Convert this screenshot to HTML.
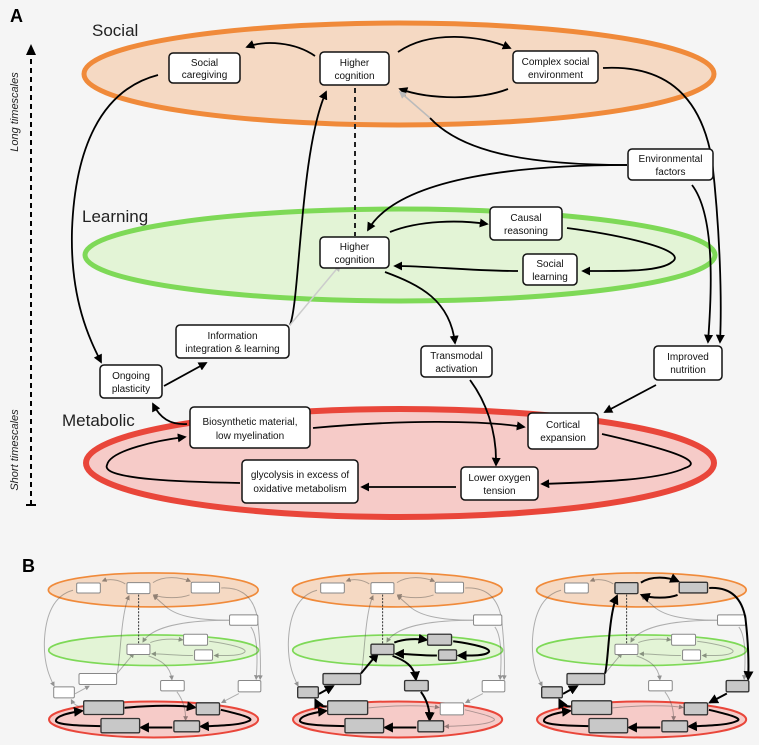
<!DOCTYPE html>
<html><head><meta charset="utf-8"><style>
html,body{margin:0;padding:0;background:#f5f5f5;}
svg{display:block;}
text{font-family:"Liberation Sans",sans-serif;}
.bt{font-size:10px;text-anchor:middle;fill:#111;}
</style></head><body>
<svg width="759" height="745" viewBox="0 0 759 745" xmlns="http://www.w3.org/2000/svg">
<defs>
<marker id="a" viewBox="0 0 10 10" refX="8" refY="5" markerWidth="5" markerHeight="5" orient="auto"><path d="M0,0 L10,5 L0,10 z" fill="#000"/></marker>
<marker id="ag" viewBox="0 0 10 10" refX="8" refY="5" markerWidth="5" markerHeight="5" orient="auto"><path d="M0,0 L10,5 L0,10 z" fill="#bbb"/></marker>
<path id="e1" d="M315,56 C295,42 265,40 247,47"/>
<path id="e2" d="M398,52 C430,30 480,35 510,48"/>
<path id="e3" d="M508,89 C480,100 430,100 400,89"/>
<path id="e4" d="M603,68 C660,65 700,90 712,160 C720,230 722,300 720,342"/>
<path id="e5" d="M627,165 C520,165 460,150 430,118 L400,92"/>
<path id="e6" d="M627,165 C530,165 400,175 368,230"/>
<path id="e7" d="M692,185 C715,215 712,290 708,342"/>
<path id="e8" d="M355,88 L355,236"/>
<path id="e9" d="M390,232 C420,220 460,220 487,224"/>
<path id="e10" d="M567,228 C620,235 690,250 672,262 C660,272 620,271 583,271"/>
<path id="e11" d="M518,271 C470,271 430,266 395,266"/>
<path id="e12" d="M385,272 C420,285 450,300 455,343"/>
<path id="e13" d="M470,380 C485,400 497,430 496,465"/>
<path id="e14" d="M656,385 L605,412"/>
<path id="e15" d="M313,428 C400,420 480,420 524,427"/>
<path id="e16" d="M602,434 C650,445 710,460 685,468 C660,480 600,482 542,484"/>
<path id="e17" d="M456,487 L362,487"/>
<path id="e18" d="M240,483 C190,482 100,480 107,465 C110,450 160,440 185,437"/>
<path id="e19" d="M187,424 C170,425 160,418 153,404"/>
<path id="e20" d="M164,386 L206,363"/>
<path id="e21" d="M290,325 C300,300 300,150 326,92"/>
<path id="e22" d="M290,325 L340,265"/>
<path id="e23" d="M158,75 C100,90 75,150 72,230 C70,300 90,340 101,362"/>

<rect id="r-sc" x="169" y="53" width="71" height="30" rx="4"/>
<rect id="r-hcs" x="320" y="52" width="69" height="33" rx="4"/>
<rect id="r-cse" x="513" y="51" width="85" height="32" rx="4"/>
<rect id="r-env" x="628" y="149" width="85" height="31" rx="4"/>
<rect id="r-cr" x="490" y="207" width="72" height="33" rx="4"/>
<rect id="r-sl" x="523" y="254" width="54" height="31" rx="4"/>
<rect id="r-hcl" x="320" y="237" width="69" height="31" rx="4"/>
<rect id="r-info" x="176" y="325" width="113" height="33" rx="4"/>
<rect id="r-op" x="100" y="365" width="62" height="33" rx="4"/>
<rect id="r-bio" x="190" y="407" width="120" height="41" rx="4"/>
<rect id="r-gly" x="242" y="460" width="116" height="43" rx="4"/>
<rect id="r-tr" x="421" y="346" width="71" height="31" rx="4"/>
<rect id="r-imp" x="654" y="346" width="68" height="34" rx="4"/>
<rect id="r-ce" x="528" y="413" width="70" height="36" rx="4"/>
<rect id="r-lo" x="461" y="467" width="77" height="33" rx="4"/>

<g id="ells">
<ellipse cx="399" cy="74" rx="315" ry="51" fill="#f5d9c3" stroke="#f08a3a" stroke-width="5"/>
<ellipse cx="400" cy="255" rx="315" ry="46" fill="#e3f4d6" stroke="#7ed957" stroke-width="5"/>
<ellipse cx="400" cy="463" rx="314" ry="54" fill="#f6cbc8" stroke="#e9463a" stroke-width="6"/>
</g>
<g id="alledges">
<use href="#e1"/><use href="#e2"/><use href="#e3"/><use href="#e4"/><use href="#e5"/><use href="#e6"/><use href="#e7"/>
<use href="#e9"/><use href="#e10"/><use href="#e11"/><use href="#e12"/><use href="#e13"/><use href="#e14"/><use href="#e15"/>
<use href="#e16"/><use href="#e17"/><use href="#e18"/><use href="#e19"/><use href="#e20"/><use href="#e21"/><use href="#e22"/><use href="#e23"/>
</g>
<g id="allboxes">
<use href="#r-sc"/><use href="#r-hcs"/><use href="#r-cse"/><use href="#r-env"/><use href="#r-cr"/><use href="#r-sl"/><use href="#r-hcl"/><use href="#r-info"/>
<use href="#r-op"/><use href="#r-bio"/><use href="#r-gly"/><use href="#r-tr"/><use href="#r-imp"/><use href="#r-ce"/><use href="#r-lo"/>
</g>
<g id="mini">
<use href="#ells"/>
<g opacity="0.4" stroke="#444" stroke-width="3" fill="none" marker-end="url(#a)"><use href="#alledges"/></g>
<use href="#e8" stroke="#333" stroke-width="3" stroke-dasharray="6,4" fill="none"/>
<g fill="#fff" stroke="#888" stroke-width="3"><use href="#allboxes"/></g>
</g>
</defs>

<rect width="759" height="745" fill="#f5f5f5"/>

<!-- Panel A -->
<text x="10" y="22" font-size="18" font-weight="bold">A</text>
<use href="#ells"/>
<text x="92" y="36" font-size="17" fill="#222">Social</text>
<text x="82" y="222" font-size="17" fill="#222">Learning</text>
<text x="62" y="426" font-size="17" fill="#222">Metabolic</text>

<line x1="31" y1="50" x2="31" y2="505" stroke="#000" stroke-width="2" stroke-dasharray="5,4"/>
<path d="M26,55 L31,44 L36,55 z" fill="#000"/>
<line x1="26" y1="505" x2="36" y2="505" stroke="#000" stroke-width="2"/>
<text transform="translate(18,112) rotate(-90)" font-size="11" font-style="italic" text-anchor="middle" fill="#222">Long timescales</text>
<text transform="translate(18,450) rotate(-90)" font-size="11" font-style="italic" text-anchor="middle" fill="#222">Short timescales</text>

<g stroke="#000" stroke-width="1.8" fill="none" marker-end="url(#a)">
<use href="#e1"/><use href="#e2"/><use href="#e3"/><use href="#e4"/><use href="#e6"/><use href="#e7"/>
<use href="#e9"/><use href="#e10"/><use href="#e11"/><use href="#e12"/><use href="#e13"/><use href="#e14"/><use href="#e15"/>
<use href="#e16"/><use href="#e17"/><use href="#e18"/><use href="#e19"/><use href="#e20"/><use href="#e21"/><use href="#e23"/>
</g>
<path d="M627,165 C520,165 460,150 430,118" stroke="#000" stroke-width="1.8" fill="none"/>
<path d="M430,118 L400,92" stroke="#bbb" stroke-width="1.5" fill="none" marker-end="url(#ag)"/>
<use href="#e22" stroke="#ccc" stroke-width="1.5" fill="none" marker-end="url(#ag)"/>
<use href="#e8" stroke="#222" stroke-width="2" stroke-dasharray="5,4" fill="none"/>

<g fill="#fff" stroke="#111" stroke-width="1.5"><use href="#allboxes"/></g>
<g class="bt">
<text class="bt" x="204.5" y="66">Social</text><text class="bt" x="204.5" y="78">caregiving</text>
<text class="bt" x="354.5" y="66">Higher</text><text class="bt" x="354.5" y="79">cognition</text>
<text class="bt" x="555.5" y="65">Complex social</text><text class="bt" x="555.5" y="78">environment</text>
<text class="bt" x="670.5" y="162">Environmental</text><text class="bt" x="670.5" y="175">factors</text>
<text class="bt" x="526" y="221">Causal</text><text class="bt" x="526" y="234">reasoning</text>
<text class="bt" x="550" y="267">Social</text><text class="bt" x="550" y="280">learning</text>
<text class="bt" x="354.5" y="250">Higher</text><text class="bt" x="354.5" y="263">cognition</text>
<text class="bt" x="232.5" y="339">Information</text><text class="bt" x="232.5" y="352">integration &amp; learning</text>
<text class="bt" x="131" y="379">Ongoing</text><text class="bt" x="131" y="392">plasticity</text>
<text class="bt" x="250" y="425">Biosynthetic material,</text><text class="bt" x="250" y="439">low myelination</text>
<text class="bt" x="300" y="478">glycolysis in excess of</text><text class="bt" x="300" y="492">oxidative metabolism</text>
<text class="bt" x="456.5" y="359">Transmodal</text><text class="bt" x="456.5" y="372">activation</text>
<text class="bt" x="688" y="360">Improved</text><text class="bt" x="688" y="373">nutrition</text>
<text class="bt" x="563" y="428">Cortical</text><text class="bt" x="563" y="441">expansion</text>
<text class="bt" x="499.5" y="481">Lower oxygen</text><text class="bt" x="499.5" y="494">tension</text>
</g>

<!-- Panel B -->
<text x="22" y="572" font-size="18" font-weight="bold">B</text>

<g transform="translate(20.4,565.3) scale(0.333)">
<use href="#mini"/>
<g stroke="#000" stroke-width="6" fill="none" marker-end="url(#a)">
<use href="#e15"/><use href="#e16"/><use href="#e17"/><use href="#e18"/>
</g>
<g fill="#c8c8c8" stroke="#333" stroke-width="4">
<use href="#r-bio"/><use href="#r-ce"/><use href="#r-lo"/><use href="#r-gly"/>
</g>
</g>

<g transform="translate(264.4,565.3) scale(0.333)">
<use href="#mini"/>
<g stroke="#000" stroke-width="6" fill="none" marker-end="url(#a)">
<use href="#e9"/><use href="#e10"/><use href="#e11"/><use href="#e12"/><use href="#e13"/><use href="#e17"/><use href="#e18"/><use href="#e19"/><use href="#e20"/><use href="#e22"/>
</g>
<g fill="#c8c8c8" stroke="#333" stroke-width="4">
<use href="#r-hcl"/><use href="#r-cr"/><use href="#r-sl"/><use href="#r-tr"/><use href="#r-lo"/><use href="#r-gly"/><use href="#r-bio"/><use href="#r-op"/><use href="#r-info"/>
</g>
</g>

<g transform="translate(508.4,565.3) scale(0.333)">
<use href="#mini"/>
<g stroke="#000" stroke-width="6" fill="none" marker-end="url(#a)">
<use href="#e2"/><use href="#e3"/><use href="#e4"/><use href="#e14"/><use href="#e16"/><use href="#e17"/><use href="#e18"/><use href="#e19"/><use href="#e20"/><use href="#e21"/>
</g>
<g fill="#c8c8c8" stroke="#333" stroke-width="4">
<use href="#r-hcs"/><use href="#r-cse"/><use href="#r-imp"/><use href="#r-ce"/><use href="#r-lo"/><use href="#r-gly"/><use href="#r-bio"/><use href="#r-op"/><use href="#r-info"/>
</g>
</g>
</svg>
</body></html>
